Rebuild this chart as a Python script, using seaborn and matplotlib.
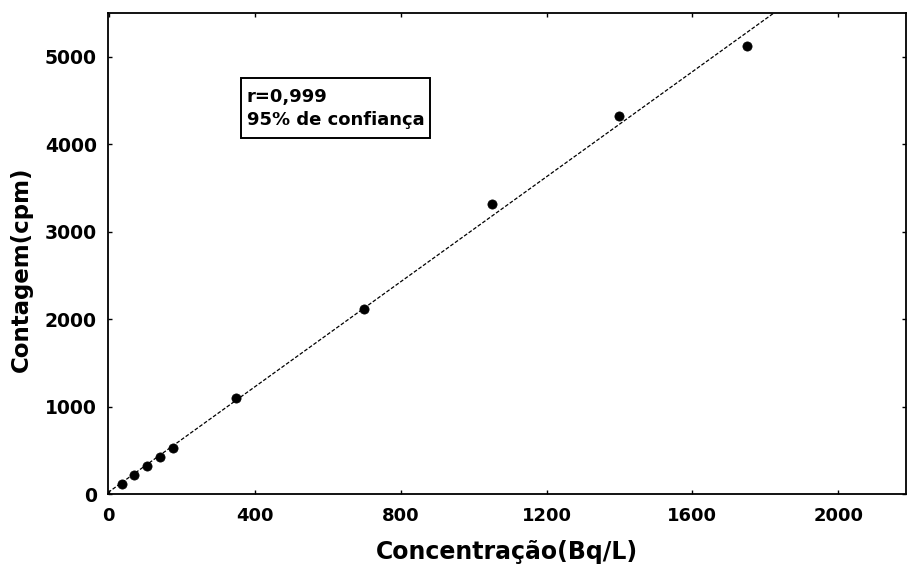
import numpy as np
import pandas as pd
import matplotlib
matplotlib.use("Agg")
import matplotlib.pyplot as plt
from matplotlib.patches import Rectangle
import seaborn as sns

# Data
concentracao = [35, 70, 105, 140, 175, 350, 700, 1050, 1400, 1750]
contagem = [115, 220, 325, 425, 525, 1100, 2120, 3320, 4320, 5130]
x_ticks = [0, 400, 800, 1200, 1600, 2000]
y_ticks = [0, 1000, 2000, 3000, 4000, 5000]
legend_lines = ["r=0,999", "95% de confiança"]
x_label = "Concentração(Bq/L)"
y_label = "Contagem(cpm)"

df = pd.DataFrame({"x": concentracao, "y": contagem})

sns.set_style("ticks")
plt.rcParams["font.family"] = ["DejaVu Sans"]
for k in ["text.color", "axes.labelcolor", "xtick.color", "ytick.color", "axes.edgecolor"]:
    plt.rcParams[k] = "black"

fig = plt.figure(figsize=(9.08, 5.72), dpi=100)
ax = fig.add_axes([0.119, 0.136, 0.879, 0.841])
ax.set_xlim(-2, 2186)
ax.set_ylim(0, 5500)

sns.regplot(data=df, x="x", y="y", ax=ax, ci=None, truncate=False,
            scatter_kws=dict(s=44, color="black", edgecolor="black", linewidths=0.5,
                             alpha=1, zorder=3),
            line_kws=dict(color="black", lw=0.9, linestyle=(0, (3, 1.5))))

ax.set_xticks(x_ticks)
ax.set_yticks(y_ticks)
ax.set_xticklabels([str(v) for v in x_ticks], fontsize=13, fontweight="bold")
ax.set_yticklabels([str(v) for v in y_ticks], fontsize=13.5, fontweight="bold")
ax.tick_params(axis="both", direction="in", length=3, width=1, top=True, right=True)
ax.tick_params(axis="x", pad=9)
ax.tick_params(axis="y", pad=8)
for sp in ax.spines.values():
    sp.set_visible(True)
    sp.set_linewidth(1.3)
    sp.set_color("black")

ax.set_xlabel(x_label, fontsize=17, fontweight="bold", labelpad=11)
ax.set_ylabel(y_label, fontsize=16.5, fontweight="bold")
ax.yaxis.set_label_coords(-0.094, 0.468)

ax.add_patch(Rectangle((0.1667, 0.740), 0.2368, 0.125, transform=ax.transAxes,
                       fc="white", ec="black", lw=1.4, zorder=4))
ax.text(0.174, 0.825, legend_lines[0], transform=ax.transAxes, ha="left", va="center",
        fontsize=13, fontweight="bold", zorder=5)
ax.text(0.174, 0.778, legend_lines[1], transform=ax.transAxes, ha="left", va="center",
        fontsize=13, fontweight="bold", zorder=5)

fig.savefig("out.png", dpi=100)
